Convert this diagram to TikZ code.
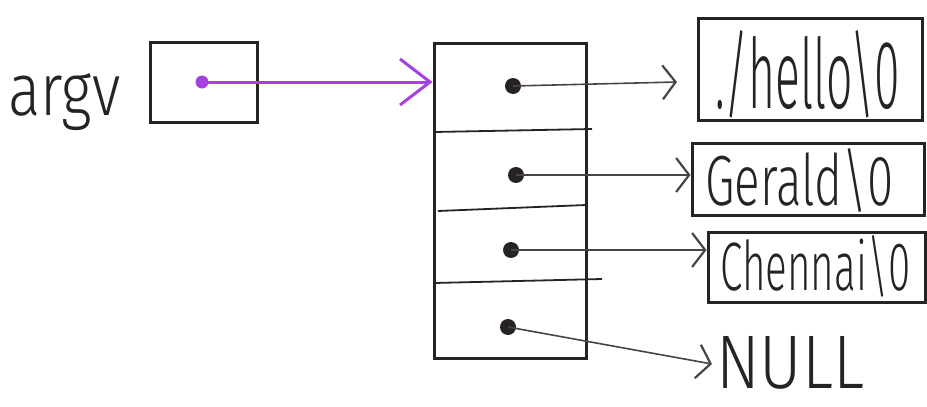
\documentclass[tikz,border=0pt]{standalone}
\usepackage{fontspec}
\setmainfont{Liberation Sans}
\newfontfamily\handfont{Fira Sans Light}
\usetikzlibrary{arrows.meta}
\definecolor{pen}{RGB}{40,35,35}
\definecolor{violetpen}{RGB}{165,65,225}
\newcommand{\fitbox}[3]{\resizebox{#1}{#2}{\handfont #3}}
\begin{document}
\begin{tikzpicture}[x=1pt,y=-1pt,
  box/.style={draw=pen, line width=3pt, inner sep=0pt},
  dotb/.style={circle, fill=pen, inner sep=0pt, minimum size=16pt},
  dotp/.style={circle, fill=violetpen, inner sep=0pt, minimum size=13pt},
  hand/.style={inner sep=0pt, anchor=base west, text=pen},
  ptr/.style={draw=pen!85, line width=1.6pt, -{Straight Barb[length=13pt,width=34pt,line width=2.2pt]}},
  vptr/.style={draw=violetpen, line width=3pt, -{Straight Barb[length=30pt,width=46pt,line width=3pt]}}]
\useasboundingbox (0,0) rectangle (927,407);
% argv
\node[hand] (argvlbl) at (8,115) {\fitbox{112pt}{42pt}{argv}};
\node[box, minimum width=107pt, minimum height=80pt] (argvbox) at (203.5,82) {};
\node[dotp] (pd) at (202,82) {};
% array
\node[box, minimum width=152pt, minimum height=315pt] (arr) at (510,200.5) {};
\coordinate (l1) at (434,132); \coordinate (r1) at (592,129);
\coordinate (l2) at (438,211); \coordinate (r2) at (586,205);
\coordinate (l3) at (434,283); \coordinate (r3) at (602,279);
\draw[pen, line width=1.8pt] (l1) -- (r1);
\draw[pen, line width=1.8pt] (l2) -- (r2);
\draw[pen, line width=1.8pt] (l3) -- (r3);
\node[dotb] (d1) at (513,86) {};
\node[dotb] (d2) at (516,175) {};
\node[dotb] (d3) at (511,250) {};
\node[dotb] (d4) at (508,327) {};
% string boxes
\node[box, minimum width=224pt, minimum height=102pt] (hello) at (810,69) {};
\node[box, minimum width=232pt, minimum height=72pt] (gerald) at (808,179) {};
\node[box, minimum width=217pt, minimum height=70pt] (chennai) at (816.5,267) {};
\node[hand] (hellotxt) at (715,108) {\fitbox{185pt}{78pt}{./hello\textbackslash 0}};
\node[hand] (geraldtxt) at (705,205) {\fitbox{188pt}{57pt}{Gerald\textbackslash 0}};
\node[hand] (chennaitxt) at (720,290) {\fitbox{190pt}{55pt}{Chennai\textbackslash 0}};
\node[hand] (null) at (716,388) {\fitbox{148pt}{52pt}{NULL}};
% pointers
\coordinate (t4) at (712,364);
\coordinate (t1) at (677,82);
\draw[vptr] (pd.center) -- (arr.west |- pd);
\draw[ptr] (d1.center) -- (t1);
\draw[ptr] (d2.center) -- (gerald.west |- d2);
\draw[ptr] (d3.center) -- (chennai.west |- d3);
\draw[ptr] (d4.center) -- (t4);
\end{tikzpicture}
\end{document}
